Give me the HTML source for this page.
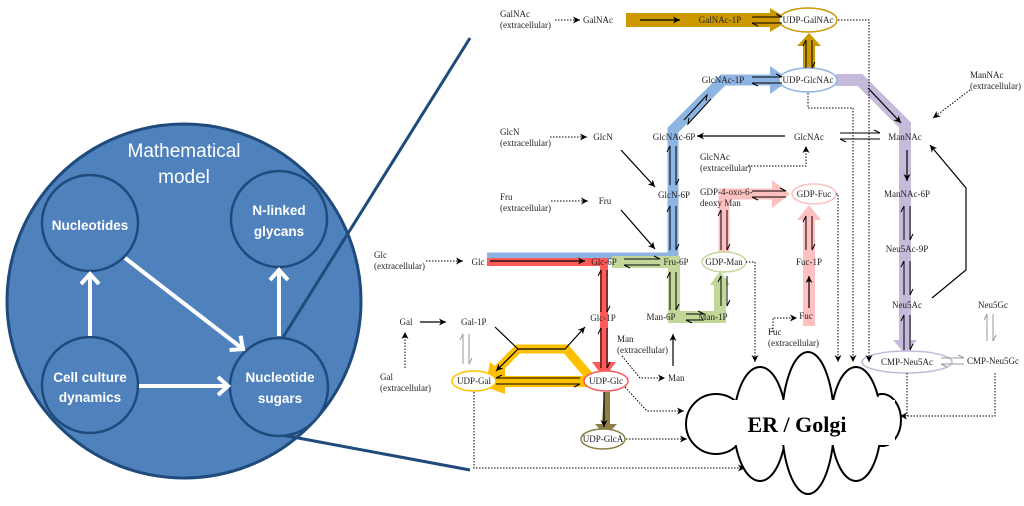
<!DOCTYPE html>
<html><head><meta charset="utf-8"><style>
html,body{margin:0;padding:0;background:#fff;}
svg{display:block;}
text{font-family:"Liberation Serif",serif;font-size:9px;fill:#222;}
.s{font-family:"Liberation Sans",sans-serif;fill:#fff;}
</style></head><body>
<svg width="1024" height="506" viewBox="0 0 1024 506" xmlns="http://www.w3.org/2000/svg">
<defs>
<marker id="a" markerWidth="8" markerHeight="8" refX="7" refY="4" orient="auto" markerUnits="userSpaceOnUse"><path d="M0,0.5 L7,4 L0,7.5 L2,4 Z" fill="#000"/></marker>
<marker id="w" markerWidth="24" markerHeight="24" refX="12" refY="12" orient="auto" markerUnits="userSpaceOnUse"><path d="M2,3 L12,12 L2,21" fill="none" stroke="#fff" stroke-width="4"/></marker>
</defs>

<!-- left model -->
<circle cx="184" cy="301" r="177" fill="#4f81bd" stroke="#1f4a7c" stroke-width="3"/>
<line x1="282" y1="339" x2="470" y2="38" stroke="#1f4a7c" stroke-width="3"/>
<line x1="282" y1="435" x2="470" y2="470" stroke="#1f4a7c" stroke-width="3"/>
<circle cx="90" cy="223" r="48" fill="#4f81bd" stroke="#1f4a7c" stroke-width="2.5"/>
<circle cx="279" cy="219" r="48" fill="#4f81bd" stroke="#1f4a7c" stroke-width="2.5"/>
<circle cx="90" cy="385" r="48" fill="#4f81bd" stroke="#1f4a7c" stroke-width="2.5"/>
<circle cx="279" cy="387" r="49" fill="#4f81bd" stroke="#1f4a7c" stroke-width="2.5"/>
<text class="s" x="184" y="157" text-anchor="middle" style="font-size:19px">Mathematical</text>
<text class="s" x="184" y="183" text-anchor="middle" style="font-size:19px">model</text>
<text class="s" x="90" y="230" text-anchor="middle" style="font-size:13.5px;font-weight:bold">Nucleotides</text>
<text class="s" x="279" y="215" text-anchor="middle" style="font-size:13.5px;font-weight:bold">N-linked</text>
<text class="s" x="279" y="236" text-anchor="middle" style="font-size:13.5px;font-weight:bold">glycans</text>
<text class="s" x="90" y="382" text-anchor="middle" style="font-size:13.5px;font-weight:bold">Cell culture</text>
<text class="s" x="90" y="402" text-anchor="middle" style="font-size:13.5px;font-weight:bold">dynamics</text>
<text class="s" x="280" y="382" text-anchor="middle" style="font-size:13.5px;font-weight:bold">Nucleotide</text>
<text class="s" x="280" y="403" text-anchor="middle" style="font-size:13.5px;font-weight:bold">sugars</text>
<line x1="90" y1="336" x2="90" y2="274" stroke="#fff" stroke-width="4" marker-end="url(#w)"/>
<line x1="279" y1="336" x2="279" y2="270" stroke="#fff" stroke-width="4" marker-end="url(#w)"/>
<line x1="139" y1="386" x2="228" y2="386" stroke="#fff" stroke-width="4" marker-end="url(#w)"/>
<line x1="125" y1="258" x2="243" y2="349" stroke="#fff" stroke-width="4" marker-end="url(#w)"/>

<!-- colored bands -->
<g stroke-linejoin="miter">
<polygon points="626,13 770,13 770,8 790,20 770,32 770,27 626,27" fill="#cc9900"/>
<polygon points="803,70 803,46 797,46 809,33 821,46 815,46 815,70" fill="#cc9900"/>
<polyline points="673,262 673,130 723,80 772,80" fill="none" stroke="#8db4e2" stroke-width="11"/>
<polygon points="770,72 770,66 790,80 770,94 770,88" fill="#8db4e2"/>
<line x1="487" y1="256" x2="678" y2="256" stroke="#8db4e2" stroke-width="7"/>
<polyline points="487,262 604,262 604,362" fill="none" stroke="#ff5a5a" stroke-width="8"/>
<polygon points="592,362 616,362 604,378" fill="#ff5a5a"/>
<polyline points="612,262 674,262 674,317 720,317 720,278" fill="none" stroke="#c4d79b" stroke-width="12"/>
<polygon points="710,285 730,285 720,271" fill="#c4d79b"/>
<polyline points="724,252 724,194 772,194" fill="none" stroke="#ffc0c0" stroke-width="11"/>
<polygon points="772,184 772,180 790,194 772,208 772,204" fill="#ffc0c0"/>
<polyline points="809,326 809,218" fill="none" stroke="#ffc0c0" stroke-width="12"/>
<polygon points="797,220 821,220 809,205" fill="#ffc0c0"/>
<polyline points="836,80 860,80 905,125 905,342" fill="none" stroke="#c6bada" stroke-width="12"/>
<polygon points="893,340 917,340 905,354" fill="#c6bada"/>
<polygon points="604,392 610,392 610,424 616,424 606,434 596,424 602,424" fill="#8c7f48"/>
<polygon points="604,392 610,392 610,424 617,424 606,436 595,424 602,424" fill="#8c7f48"/>
<polygon points="588,376 588,387 505,387 505,394 470,381 505,368 505,376" fill="#ffc000"/>
<polyline points="590,377 566,349 518,349 497,370" fill="none" stroke="#ffc000" stroke-width="9"/>
<polygon points="487,378 490,362 502,372" fill="#ffc000"/>
</g>

<!-- ellipses -->
<ellipse cx="808" cy="20" rx="29" ry="12" fill="#fff" stroke="#cc9900" stroke-width="1.5"/>
<ellipse cx="808" cy="80" rx="29" ry="12" fill="#fff" stroke="#8db4e2" stroke-width="1.5"/>
<ellipse cx="724" cy="262" rx="22" ry="10" fill="#fff" stroke="#c4d79b" stroke-width="1.5"/>
<ellipse cx="814" cy="194" rx="22" ry="10" fill="#fff" stroke="#ffc0c0" stroke-width="1.5"/>
<ellipse cx="907" cy="362" rx="45" ry="11" fill="#fff" stroke="#c6bada" stroke-width="1.5"/>
<ellipse cx="606" cy="381" rx="22" ry="10" fill="#fff" stroke="#ff5a5a" stroke-width="1.5"/>
<ellipse cx="474" cy="381" rx="22" ry="10" fill="#fff" stroke="#ffc000" stroke-width="1.5"/>
<ellipse cx="603" cy="439" rx="22" ry="10" fill="#fff" stroke="#8c7f48" stroke-width="1.5"/>

<!-- cloud -->
<g fill="#fff" stroke="#000" stroke-width="2">
<ellipse cx="716" cy="424" rx="30" ry="30"/>
<ellipse cx="882" cy="420" rx="19" ry="26"/>
<ellipse cx="760" cy="424" rx="26" ry="57"/>
<ellipse cx="808" cy="423" rx="26" ry="71"/>
<ellipse cx="856" cy="424" rx="25" ry="57"/>
</g>
<g fill="#fff">
<ellipse cx="716" cy="424" rx="28" ry="28"/>
<ellipse cx="882" cy="420" rx="17" ry="24"/>
<rect x="700" y="400" width="195" height="45"/>
</g>
<text x="797" y="432" text-anchor="middle" style="font-size:22px;font-weight:bold;fill:#000">ER / Golgi</text>

<!-- one-way solid arrows -->
<g stroke="#000" stroke-width="1.2" fill="none" marker-end="url(#a)">
<line x1="640" y1="20" x2="680" y2="20"/>
<line x1="490" y1="261" x2="585" y2="261"/>
<line x1="785" y1="136" x2="697" y2="136"/>
<line x1="621" y1="150" x2="655" y2="187"/>
<line x1="621" y1="210" x2="655" y2="249"/>
<line x1="868" y1="88" x2="901" y2="123"/>
<line x1="907" y1="150" x2="907" y2="181"/>
<polyline points="932,298 966,270 966,188 930,145"/>
<line x1="673" y1="366" x2="673" y2="334"/>
<line x1="809" y1="308" x2="809" y2="276"/>
<line x1="420" y1="322" x2="446" y2="322"/>
<polyline points="495,327 518,349 565,349 585,327"/>
<line x1="518" y1="349" x2="496" y2="371"/>
<line x1="604" y1="392" x2="604" y2="427"/>
</g>

<!-- reversible arrows -->
<g stroke="#000" stroke-width="1" fill="none">
<path d="M752,17 H782 l-6,-3 M782,23 H752 l6,3"/>
<path d="M752,77 H782 l-6,-3 M782,83 H752 l6,3"/>
<path d="M806,68 V40 l-3,6 M812,40 V68 l3,-6"/>
<path d="M684,120 L707,95 l-1,6 M711,99 L688,124 l1,-6"/>
<path d="M670,185 V146 l-3,6 M676,146 V185 l3,-6"/>
<path d="M670,250 V206 l-3,6 M676,206 V250 l3,-6"/>
<path d="M670,310 V272 l-3,6 M676,272 V310 l3,-6"/>
<path d="M624,259 H660 l-6,-3 M660,265 H624 l6,3"/>
<path d="M601,312 V270 l-3,6 M607,270 V312 l3,-6"/>
<path d="M601,368 V328 l-3,6 M607,328 V368 l3,-6"/>
<path d="M686,314 H704 l-6,-3 M704,320 H686 l6,3"/>
<path d="M721,306 V276 l-3,6 M727,276 V306 l3,-6"/>
<path d="M721,250 V210 l-3,6 M727,210 V250 l3,-6"/>
<path d="M752,191 H786 l-6,-3 M786,197 H752 l6,3"/>
<path d="M806,250 V216 l-3,6 M812,216 V250 l3,-6"/>
<path d="M840,133 H880 l-6,-3 M880,139 H840 l6,3"/>
<path d="M904,240 V206 l-3,6 M910,206 V240 l3,-6"/>
<path d="M904,295 V261 l-3,6 M910,261 V295 l3,-6"/>
<path d="M904,350 V315 l-3,6 M910,315 V350 l3,-6"/>
<path d="M580,378 H496 l6,-3 M496,384 H580 l-6,3"/>
</g>
<g stroke="#999" stroke-width="1" fill="none">
<path d="M463,364 V334 l-3,6 M469,334 V364 l3,-6"/>
<path d="M987,341 V314 l-3,6 M993,314 V341 l3,-6"/>
<path d="M941,358 H964 l-6,-3 M964,364 H941 l6,3"/>
</g>

<!-- dotted connectors -->
<g stroke="#000" stroke-width="1" stroke-dasharray="1.5,1.5" fill="none" marker-end="url(#a)">
<line x1="555" y1="20" x2="580" y2="20"/>
<line x1="550" y1="137" x2="587" y2="137"/>
<line x1="551" y1="201" x2="588" y2="201"/>
<line x1="426" y1="261" x2="463" y2="261"/>
<line x1="405" y1="368" x2="405" y2="332"/>
<polyline points="748,166 806,166 806,146"/>
<line x1="970" y1="90" x2="933" y2="118"/>
<polyline points="622,356 640,378 665,378"/>
<polyline points="773,332 773,318 797,318"/>
<polyline points="838,20 869,20 869,362"/>
<polyline points="808,93 808,108 853,108 853,362"/>
<polyline points="836,194 838,194 838,362"/>
<polyline points="746,262 755,262 755,362"/>
<polyline points="625,387 647,411 684,411"/>
<line x1="626" y1="439" x2="687" y2="439"/>
<polyline points="474,392 474,468 745,468"/>
<polyline points="995,373 995,416 900,416"/>
</g>
<polyline points="907,373 907,416" stroke="#000" stroke-width="1" stroke-dasharray="1.5,1.5" fill="none"/>

<!-- labels -->
<g>
<text x="500" y="17">GalNAc</text><text x="500" y="28">(extracellular)</text>
<text x="583" y="23">GalNAc</text>
<text x="720" y="23" text-anchor="middle">GalNAc-1P</text>
<text x="808" y="23" text-anchor="middle">UDP-GalNAc</text>
<text x="808" y="83" text-anchor="middle">UDP-GlcNAc</text>
<text x="723" y="83" text-anchor="middle">GlcNAc-1P</text>
<text x="970" y="78">ManNAc</text><text x="970" y="89">(extracellular)</text>
<text x="500" y="135">GlcN</text><text x="500" y="146">(extracellular)</text>
<text x="603" y="140" text-anchor="middle">GlcN</text>
<text x="674" y="140" text-anchor="middle">GlcNAc-6P</text>
<text x="809" y="140" text-anchor="middle">GlcNAc</text>
<text x="905" y="140" text-anchor="middle">ManNAc</text>
<text x="700" y="160">GlcNAc</text><text x="700" y="171">(extracellular)</text>
<text x="674" y="198" text-anchor="middle">GlcN-6P</text>
<text x="700" y="195">GDP-4-oxo-6-</text><text x="700" y="206">deoxy Man</text>
<text x="814" y="197" text-anchor="middle">GDP-Fuc</text>
<text x="907" y="197" text-anchor="middle">ManNAc-6P</text>
<text x="500" y="200">Fru</text><text x="500" y="211">(extracellular)</text>
<text x="605" y="204" text-anchor="middle">Fru</text>
<text x="907" y="252" text-anchor="middle">Neu5Ac-9P</text>
<text x="374" y="258">Glc</text><text x="374" y="269">(extracellular)</text>
<text x="478" y="265" text-anchor="middle">Glc</text>
<text x="604" y="265" text-anchor="middle">Glc-6P</text>
<text x="676" y="265" text-anchor="middle">Fru-6P</text>
<text x="724" y="265" text-anchor="middle">GDP-Man</text>
<text x="809" y="265" text-anchor="middle">Fuc-1P</text>
<text x="907" y="308" text-anchor="middle">Neu5Ac</text>
<text x="993" y="308" text-anchor="middle">Neu5Gc</text>
<text x="406" y="325" text-anchor="middle">Gal</text>
<text x="461" y="325">Gal-1P</text>
<text x="603" y="321" text-anchor="middle">Glc-1P</text>
<text x="661" y="320" text-anchor="middle">Man-6P</text>
<text x="713" y="320" text-anchor="middle">Man-1P</text>
<text x="806" y="319" text-anchor="middle">Fuc</text>
<text x="768" y="335">Fuc</text><text x="768" y="346">(extracellular)</text>
<text x="617" y="342">Man</text><text x="617" y="353">(extracellular)</text>
<text x="668" y="381">Man</text>
<text x="380" y="380">Gal</text><text x="380" y="391">(extracellular)</text>
<text x="474" y="384" text-anchor="middle">UDP-Gal</text>
<text x="606" y="384" text-anchor="middle">UDP-Glc</text>
<text x="603" y="442" text-anchor="middle">UDP-GlcA</text>
<text x="907" y="365" text-anchor="middle">CMP-Neu5Ac</text>
<text x="993" y="364" text-anchor="middle">CMP-Neu5Gc</text>
</g>
</svg>
</body></html>
